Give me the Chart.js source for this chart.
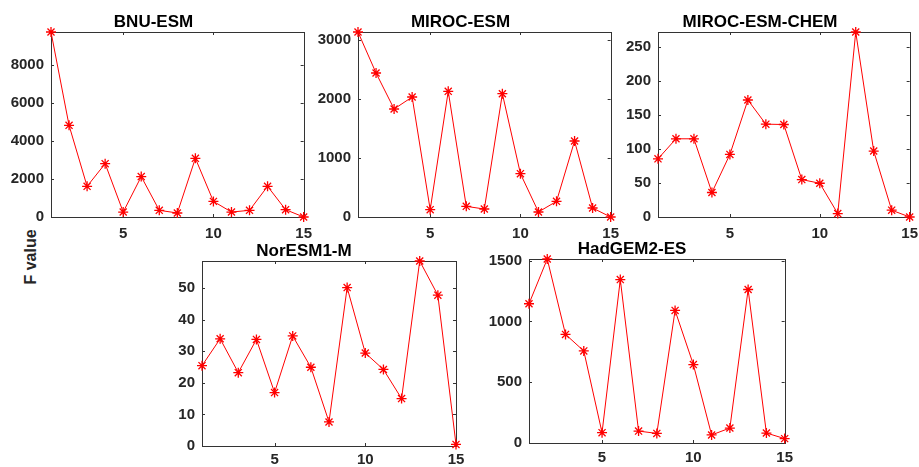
<!DOCTYPE html>
<html>
<head>
<meta charset="utf-8">
<script src="https://cdn.jsdelivr.net/npm/chart.js@4.4.0/dist/chart.umd.min.js"></script>
<style>
  body { margin: 0; width: 919px; height: 467px; overflow: hidden; background: #fff; position: relative; }
  canvas { position: absolute; }
  #ylabel {
    position: absolute; left: 31px; top: 257px;
    transform: translate(-50%, -50%) rotate(-90deg);
    font: bold 16px "Liberation Sans", Arial, sans-serif; color: #262626; white-space: nowrap;
  }
</style>
</head>
<body>
<div id="ylabel">F value</div>
<script>
/* data: 15 points per model */
const xValues = [1, 2, 3, 4, 5, 6, 7, 8, 9, 10, 11, 12, 13, 14, 15];
const xTicks = [5, 10, 15];

const titles = ['BNU-ESM', 'MIROC-ESM', 'MIROC-ESM-CHEM', 'NorESM1-M', 'HadGEM2-ES'];

const bnuValues = [9710, 4810, 1610, 2800, 260, 2120, 350, 210, 3080, 820, 260, 350, 1610, 385, 0];
const mirocValues = [3130, 2436, 1827, 2030, 124, 2126, 180, 135, 2086, 733, 85, 265, 1286, 152, 0];
const mirocChemValues = [85.5, 115, 115, 36, 92, 172, 136.5, 136, 55, 49.6, 5, 272, 97, 10, 0];
const norValues = [25.4, 33.9, 23.2, 33.7, 16.9, 34.8, 24.9, 7.6, 50.1, 29.4, 24.2, 15.0, 58.5, 47.7, 0.5];
const hadValues = [1145, 1513, 893, 757, 85, 1344, 98, 79, 1090, 645, 66, 123, 1262, 82, 36];

const bnuTicks = [0, 2000, 4000, 6000, 8000];
const mirocTicks = [0, 1000, 2000, 3000];
const mirocChemTicks = [0, 50, 100, 150, 200, 250];
const norTicks = [0, 10, 20, 30, 40, 50];
const hadTicks = [0, 500, 1000, 1500];

const seriesList = [bnuValues, mirocValues, mirocChemValues, norValues, hadValues];
const tickList = [bnuTicks, mirocTicks, mirocChemTicks, norTicks, hadTicks];

// plot area of each panel (page pixels) and gap under it for the x labels
const layout = [
  { left: 51, top: 32, right: 306, bottom: 217, xPad: 8 },
  { left: 358, top: 32, right: 613, bottom: 217, xPad: 8 },
  { left: 658, top: 32, right: 912, bottom: 217, xPad: 8 },
  { left: 202, top: 261, right: 456, bottom: 446, xPad: 5 },
  { left: 529, top: 259, right: 785, bottom: 443, xPad: 6 }
];

const Y_W = 50, X_H = 34, TITLE_H = 22, R_PAD = 14;
const FONT = '"Liberation Sans", Arial, sans-serif';

/* matlab style box with inward ticks on all four sides */
const boxPlugin = {
  id: 'matlabBox',
  beforeDatasetsDraw(chart) {
    const ctx = chart.ctx;
    const a = chart.chartArea;
    const x = chart.scales.x, y = chart.scales.y;
    ctx.save();
    ctx.strokeStyle = '#333333';
    ctx.lineWidth = 1;
    ctx.strokeRect(Math.round(a.left) + 0.5, Math.round(a.top) + 0.5,
      Math.round(a.right - a.left), Math.round(a.bottom - a.top));
    ctx.beginPath();
    x.ticks.forEach(t => {
      const px = Math.round(x.getPixelForValue(t.value)) + 0.5;
      ctx.moveTo(px, a.bottom); ctx.lineTo(px, a.bottom - 3);
      ctx.moveTo(px, a.top); ctx.lineTo(px, a.top + 3);
    });
    y.ticks.forEach(t => {
      const py = Math.round(y.getPixelForValue(t.value)) + 0.5;
      ctx.moveTo(a.left, py); ctx.lineTo(a.left + 3, py);
      ctx.moveTo(a.right, py); ctx.lineTo(a.right - 3, py);
    });
    ctx.stroke();
    ctx.restore();
  }
};

function makeChart(i) {
  const p = layout[i];
  const values = seriesList[i];
  const yTicks = tickList[i];
  const w = p.right - p.left + Y_W + R_PAD;
  const h = p.bottom - p.top + TITLE_H + X_H;
  const canvas = document.createElement('canvas');
  canvas.width = w;
  canvas.height = h;
  canvas.style.left = (p.left - Y_W) + 'px';
  canvas.style.top = (p.top - TITLE_H) + 'px';
  canvas.style.width = w + 'px';
  canvas.style.height = h + 'px';
  document.body.appendChild(canvas);

  const tickFont = { family: FONT, size: 15, weight: 'bold' };

  new Chart(canvas, {
    type: 'line',
    data: {
      datasets: [{
        data: xValues.map((v, k) => ({ x: v, y: values[k] })),
        borderColor: '#ff0000',
        borderWidth: 1,
        pointStyle: 'star',
        pointRadius: 5,
        pointBorderColor: '#ff0000',
        pointBorderWidth: 1.3,
        fill: false,
        tension: 0,
        clip: false
      }]
    },
    options: {
      responsive: false,
      animation: false,
      devicePixelRatio: 1,
      layout: { padding: { left: 0, right: R_PAD, top: 0, bottom: 0 } },
      plugins: {
        legend: { display: false },
        tooltip: { enabled: false },
        title: {
          display: true,
          text: titles[i],
          color: '#000',
          font: { family: FONT, size: 17, weight: 'bold', lineHeight: 1 },
          padding: { top: 4, bottom: 1 }
        }
      },
      scales: {
        x: {
          type: 'linear', min: 1, max: 15,
          grid: { display: false, drawTicks: false }, border: { display: false },
          afterBuildTicks: ax => { ax.ticks = xTicks.map(v => ({ value: v })); },
          afterFit: ax => { ax.height = X_H; },
          ticks: { padding: p.xPad, font: tickFont, color: '#262626', maxRotation: 0, autoSkip: false,
                   callback: v => String(v) }
        },
        y: {
          type: 'linear', min: 0, max: Math.max(...values),
          grid: { display: false, drawTicks: false }, border: { display: false },
          afterBuildTicks: ax => { ax.ticks = yTicks.map(v => ({ value: v })); },
          afterFit: ax => { ax.width = Y_W; },
          ticks: { padding: 7, font: tickFont, color: '#262626', autoSkip: false,
                   callback: v => String(v) }
        }
      }
    },
    plugins: [boxPlugin]
  });
}

for (let i = 0; i < layout.length; i++) {
  makeChart(i);
}
</script>
</body>
</html>
